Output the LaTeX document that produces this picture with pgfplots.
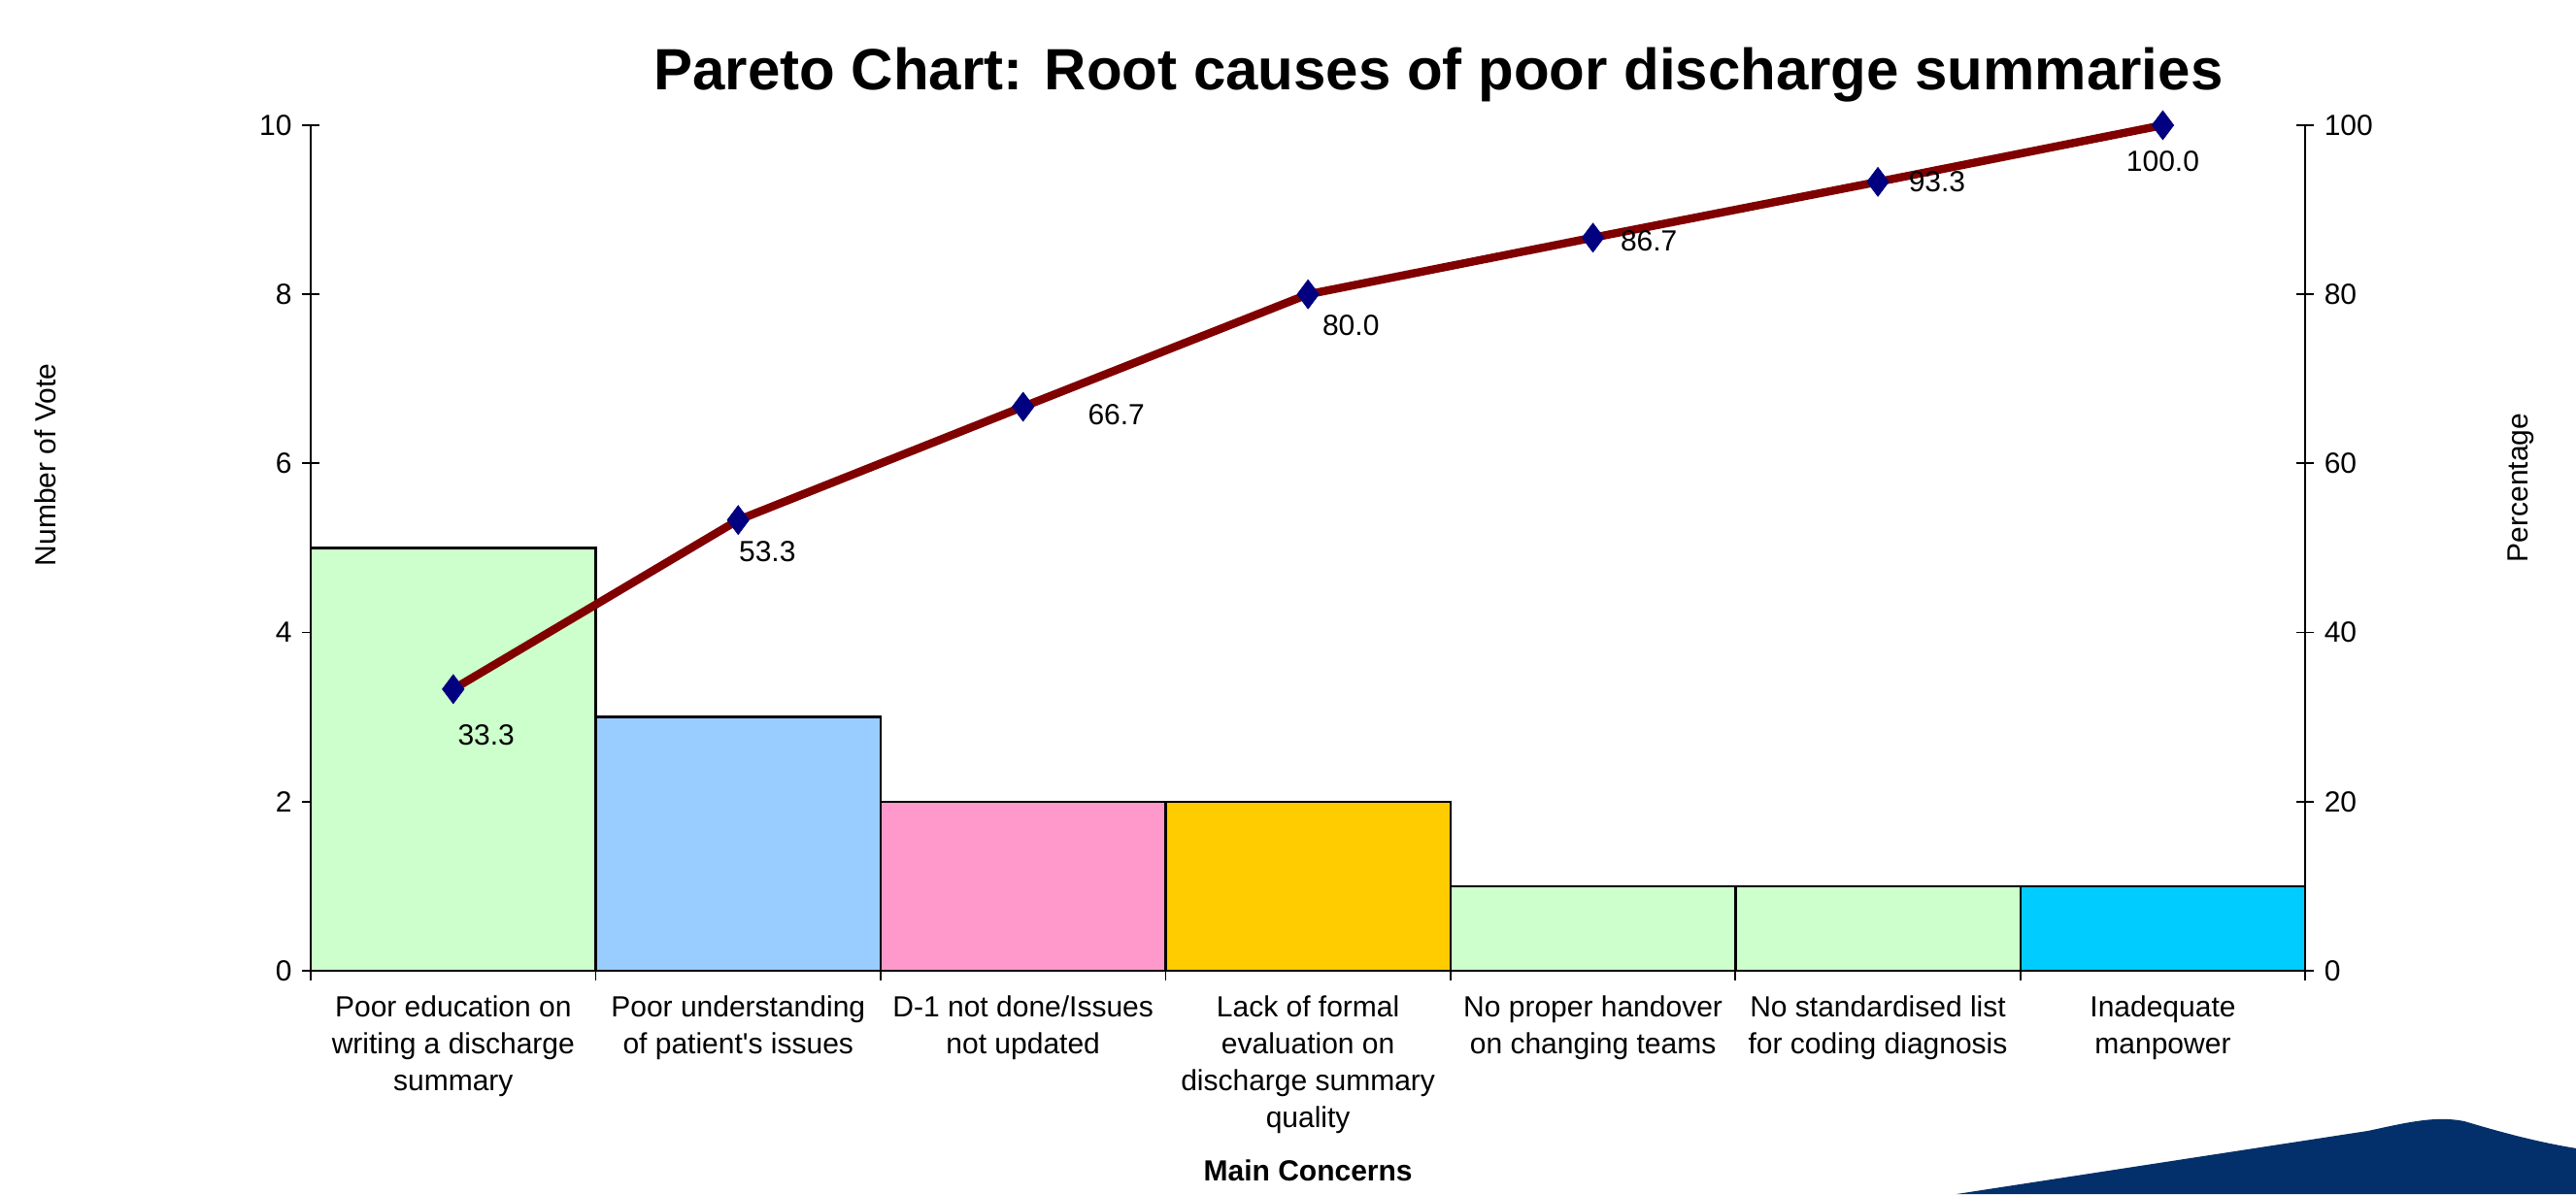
\documentclass[border=0pt]{standalone}
\usepackage{fontspec}
\setmainfont{Liberation Sans}
\usepackage{pgfplots}
\pgfplotsset{compat=1.18}
\definecolor{barA}{HTML}{CCFFCC}
\definecolor{barB}{HTML}{99CCFF}
\definecolor{barC}{HTML}{FF99CC}
\definecolor{barD}{HTML}{FFCC00}
\definecolor{barE}{HTML}{00CCFF}
\definecolor{lineRed}{HTML}{800000}
\definecolor{navyMark}{HTML}{000080}
\definecolor{swoosh}{HTML}{03306A}
\begin{document}
\begin{tikzpicture}[x=1pt,y=1pt]
\useasboundingbox (0,0) rectangle (884.33,410);
\fill[swoosh] (671.7,0) -- (813,21.7) .. controls (826,24.5) and (836,27) .. (846,25) .. controls (856,22) and (870,18) .. (884.33,15.7) -- (884.33,0) -- cycle;
\node[anchor=base west, inner sep=0pt, font=\fontsize{20}{24}\selectfont\bfseries] at (224.3,379.3) {Pareto Chart: Root causes of poor discharge summaries};
\begin{axis}[
  at={(106.7pt,76.7pt)}, anchor=south west,
  width=684.7pt, height=290.3pt, scale only axis,
  xmin=-0.5, xmax=6.5, ymin=0, ymax=10,
  axis x line*=bottom, axis y line*=left,
  axis line style={line width=0.7pt, black},
  every tick/.style={black, line width=0.6pt},
  tick align=center,
  major tick length=6pt,
  minor tick length=3.5pt,
  ytick={0,2,...,10},
  xtick={0,...,6},
  major x tick style={draw=none},
  minor xtick={-0.5,0.5,...,6.5},
  minor x tick style={yshift=-1.75pt},
  xticklabels={{Poor education on\\writing a discharge\\summary},{Poor understanding\\of patient\textquotesingle s issues},{D-1 not done/Issues\\not updated},{Lack of formal\\evaluation on\\discharge summary\\quality},{No proper handover\\on changing teams},{No standardised list\\for coding diagnosis},{Inadequate\\manpower}},
  xticklabel style={align=center, font=\fontsize{10}{12.7}\selectfont, anchor=north, yshift=-2pt},
  yticklabel style={font=\fontsize{10}{12.7}\selectfont},
  /pgf/number format/assume math mode=true,
  xlabel={\textbf{Main Concerns}},
  xlabel style={at={(axis description cs:0.5,0)}, anchor=center, yshift=-68.7pt, font=\fontsize{10}{12.7}\selectfont},
  ylabel={Number of Vote},
  ylabel style={at={(axis description cs:-0.133,0.598)}, anchor=center, font=\fontsize{10}{12.7}\selectfont},
  clip=false,
]
\addplot[ybar, bar width=1, bar shift=0pt, fill=barA, draw=black, line width=0.8pt] coordinates {(0,5)};
\addplot[ybar, bar width=1, bar shift=0pt, fill=barB, draw=black, line width=0.8pt] coordinates {(1,3)};
\addplot[ybar, bar width=1, bar shift=0pt, fill=barC, draw=black, line width=0.8pt] coordinates {(2,2)};
\addplot[ybar, bar width=1, bar shift=0pt, fill=barD, draw=black, line width=0.8pt] coordinates {(3,2)};
\addplot[ybar, bar width=1, bar shift=0pt, fill=barA, draw=black, line width=0.8pt] coordinates {(4,1)};
\addplot[ybar, bar width=1, bar shift=0pt, fill=barA, draw=black, line width=0.8pt] coordinates {(5,1)};
\addplot[ybar, bar width=1, bar shift=0pt, fill=barE, draw=black, line width=0.8pt] coordinates {(6,1)};
\end{axis}
\begin{axis}[
  at={(106.7pt,76.7pt)}, anchor=south west,
  width=684.7pt, height=290.3pt, scale only axis,
  xmin=-0.5, xmax=6.5, ymin=0, ymax=100,
  axis x line=none, axis y line*=right,
  axis line style={line width=0.7pt, black},
  every tick/.style={black, line width=0.6pt},
  tick align=center,
  major tick length=6pt,
  ytick={0,20,...,100},
  yticklabel style={font=\fontsize{10}{12.7}\selectfont},
  /pgf/number format/assume math mode=true,
  ylabel={Percentage},
  ylabel style={at={(axis description cs:1.108,0.571)}, anchor=center, rotate=0, font=\fontsize{10}{12.7}\selectfont},
  clip=false,
]
\addplot[color=lineRed, line width=2.8pt, mark=diamond*, mark size=5pt, mark options={fill=navyMark, draw=navyMark, line width=0.2pt}] coordinates {(0,33.3) (1,53.3) (2,66.7) (3,80.0) (4,86.7) (5,93.3) (6,100.0)};
\begin{scope}[every node/.style={font=\fontsize{10}{12.7}\selectfont}]
\node[xshift=11.3pt, yshift=-15.8pt] at (axis cs:0,33.3) {33.3};
\node[xshift=10pt, yshift=-10.7pt] at (axis cs:1,53.3) {53.3};
\node[xshift=32pt, yshift=-2.8pt] at (axis cs:2,66.7) {66.7};
\node[xshift=14.7pt, yshift=-10.7pt] at (axis cs:3,80.0) {80.0};
\node[xshift=19.2pt, yshift=-1.1pt] at (axis cs:4,86.7) {86.7};
\node[xshift=20.3pt, yshift=0pt] at (axis cs:5,93.3) {93.3};
\node[xshift=0pt, yshift=-12.4pt] at (axis cs:6,100.0) {100.0};
\end{scope}
\end{axis}
\end{tikzpicture}
\end{document}
